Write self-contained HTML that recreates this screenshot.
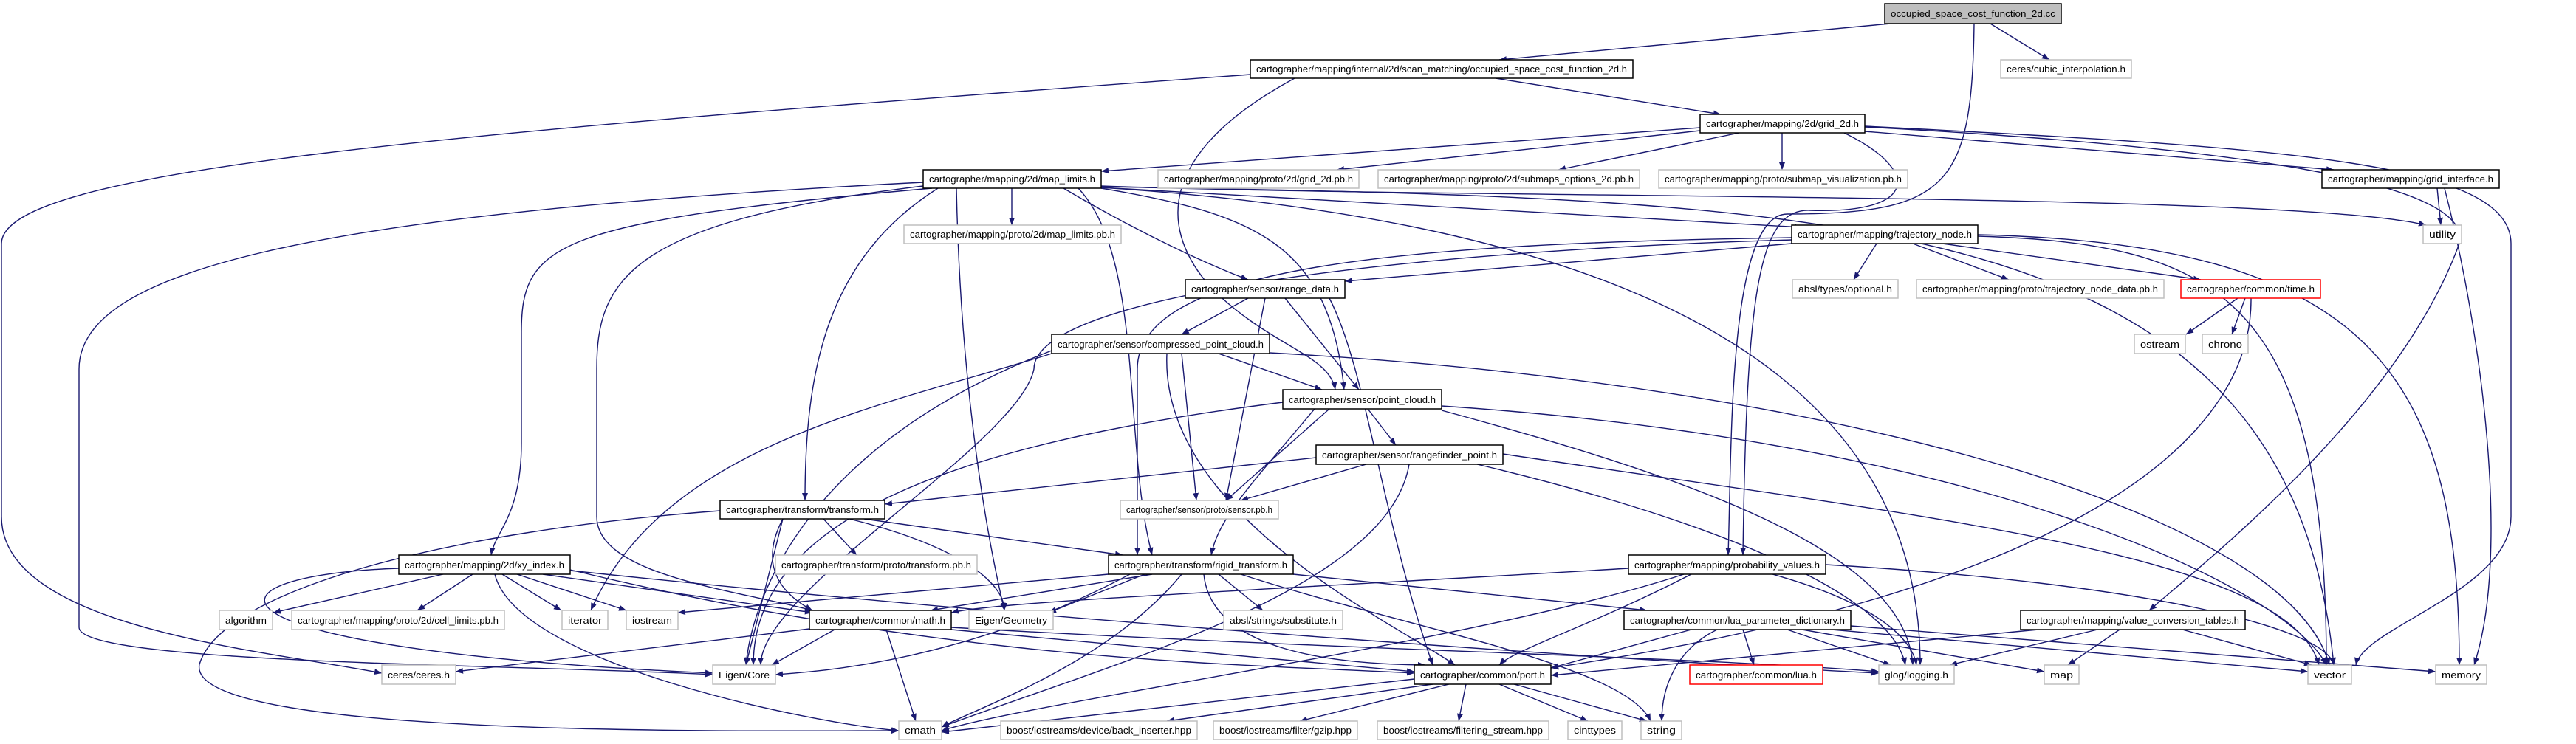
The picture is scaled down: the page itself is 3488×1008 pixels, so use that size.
<!DOCTYPE html>
<html><head><meta charset="utf-8"><style>
html,body{margin:0;padding:0;background:#fff}
svg{display:block}
text{font-family:"Liberation Sans",sans-serif;font-size:13px;fill:#000}
.e{fill:none;stroke:#191970;stroke-width:1.4}
.b{fill:#fff;stroke:#000;stroke-width:1.5}
.g{fill:#fff;stroke:#bfbfbf;stroke-width:1.5}
.r{fill:#fff;stroke:#ff0000;stroke-width:1.5}
</style></head><body>
<svg width="3488" height="1008" viewBox="0 0 3488 1008" xmlns="http://www.w3.org/2000/svg">
<defs><marker id="a" markerUnits="userSpaceOnUse" markerWidth="12" markerHeight="10" refX="10" refY="4" orient="auto"><path d="M0,0 L10,4 L0,8 z" fill="#191970"/></marker></defs>
<g class="e" marker-end="url(#a)">
<path d="M2560 32 L2030 81"/>
<path d="M2695 32 L2775 81"/>
<path d="M2673 32 C2670 250,2640 290,2420 290 C2340 290,2345 600,2340 752"/>
<path d="M2025 106 L2330 155"/>
<path d="M1693 101 C600 180,2 230,2 330 L2 700 C2 850,350 880,517 912"/>
<path d="M1753 106 C1580 200,1560 300,1640 390 C1720 470,1800 480,1808 528"/>
<path d="M2302 173 L1491 232"/>
<path d="M2302 177 L1810 230"/>
<path d="M2355 180 L2110 230"/>
<path d="M2413 180 L2413 230"/>
<path d="M2525 178 L3160 230"/>
<path d="M2525 171 C3100 200,3400 220,3400 330 L3400 700 C3400 800,3200 850,3190 901"/>
<path d="M2525 172 C3050 200,3350 250,3330 330 C3250 550,3000 750,2910 827"/>
<path d="M2497 180 C2600 230,2600 290,2450 285 C2380 283,2365 400,2360 752"/>
<path d="M3300 255 L3305 305"/>
<path d="M3310 255 C3360 450,3400 750,3350 901"/>
<path d="M1370 255 L1370 305"/>
<path d="M1491 252 C2000 270,3100 260,3285 305"/>
<path d="M1491 254 L2440 308"/>
<path d="M1440 255 C1550 320,1640 360,1690 379"/>
<path d="M1491 255 C1700 290,1800 330,1820 528"/>
<path d="M1491 253 C2500 270,3100 280,3160 901"/>
<path d="M1491 254 C2200 300,2600 500,2600 901"/>
<path d="M1270 255 C1120 350,1090 500,1090 678"/>
<path d="M1262 255 C750 300,706 330,706 450 L706 600 C706 700,670 720,665 752"/>
<path d="M1250 252 C850 300,808 380,808 500 L808 700 C808 780,1000 800,1100 827"/>
<path d="M1250 247 C400 290,107 370,107 500 L107 850 C107 900,700 900,965 914"/>
<path d="M1295 255 C1300 500,1330 700,1360 827"/>
<path d="M1460 255 C1550 350,1520 600,1560 752"/>
<path d="M2426 330 L1821 381"/>
<path d="M2541 330 L2510 379"/>
<path d="M2590 330 L2720 379"/>
<path d="M2630 330 L2980 379"/>
<path d="M2426 322 C1900 330,1540 360,1540 500 L1540 752"/>
<path d="M2426 325 C1900 340,1400 400,1400 500 C1380 600,1030 800,1030 901"/>
<path d="M2678 320 C3000 330,3150 400,3150 901"/>
<path d="M2678 318 C3200 330,3330 500,3330 901"/>
<path d="M1690 404 L1600 453"/>
<path d="M1740 404 L1840 528"/>
<path d="M1713 404 L1660 678"/>
<path d="M1800 404 C1850 500,1870 700,1940 901"/>
<path d="M3030 404 L2960 453"/>
<path d="M3040 404 L3022 453"/>
<path d="M3048 404 C3050 600,2800 800,2100 905"/>
<path d="M1650 479 L1790 528"/>
<path d="M1600 479 L1620 678"/>
<path d="M1424 479 C1200 550,900 600,800 827"/>
<path d="M1424 475 C1100 600,1020 800,1010 901"/>
<path d="M1719 478 C2500 520,3100 700,3154 901"/>
<path d="M1580 479 C1570 700,1900 850,1970 901"/>
<path d="M1852 554 L1890 603"/>
<path d="M1800 554 L1660 678"/>
<path d="M1780 554 C1700 650,1650 700,1640 752"/>
<path d="M1737 545 C1300 600,1020 700,1020 901"/>
<path d="M1952 550 C2700 600,3100 800,3150 901"/>
<path d="M1952 556 C2300 650,2580 750,2590 901"/>
<path d="M1782 620 L1198 683"/>
<path d="M1850 629 L1680 678"/>
<path d="M2035 615 C2600 700,3100 750,3140 901"/>
<path d="M2000 629 C2300 700,2560 800,2580 901"/>
<path d="M1908 629 C1880 800,1500 900,1275 985"/>
<path d="M1170 703 L1520 752"/>
<path d="M1115 703 L1160 752"/>
<path d="M1060 703 C1030 760,1050 800,1100 827"/>
<path d="M1060 703 L1010 901"/>
<path d="M1150 703 C1300 740,1360 790,1360 827"/>
<path d="M975 692 C600 720,300 800,270 900 C250 1000,1000 990,1217 990"/>
<path d="M600 778 L370 830"/>
<path d="M640 778 L565 827"/>
<path d="M680 778 L760 827"/>
<path d="M700 778 L848 827"/>
<path d="M735 778 L1100 830"/>
<path d="M540 770 C250 780,250 880,965 912"/>
<path d="M772 772 C1300 900,1700 900,1915 912"/>
<path d="M772 773 C1500 850,2300 900,2544 912"/>
<path d="M670 778 C700 900,1100 980,1217 990"/>
<path d="M1560 778 L1260 827"/>
<path d="M1550 778 L1420 830"/>
<path d="M1501 778 L918 830"/>
<path d="M1650 778 L1710 827"/>
<path d="M1751 778 L2230 827"/>
<path d="M1530 778 C1300 900,1100 910,1050 914"/>
<path d="M1600 778 C1500 900,1320 960,1275 985"/>
<path d="M1630 778 C1640 880,1800 900,1930 901"/>
<path d="M1680 778 C1900 850,2200 900,2235 977"/>
<path d="M2205 770 C1700 800,1350 815,1288 830"/>
<path d="M2290 778 C2150 850,2050 880,2030 901"/>
<path d="M2472 765 C2900 790,3150 850,3160 901"/>
<path d="M2400 778 C2550 820,2590 870,2595 901"/>
<path d="M2280 778 C2000 870,1400 950,1275 990"/>
<path d="M1096 852 L617 910"/>
<path d="M1130 853 L1045 901"/>
<path d="M1200 853 L1240 977"/>
<path d="M1288 853 C1600 880,1800 900,1915 910"/>
<path d="M1288 850 C1800 880,2300 890,2544 910"/>
<path d="M2290 853 L2100 905"/>
<path d="M2360 853 L2375 901"/>
<path d="M2420 853 L2560 901"/>
<path d="M2440 853 L2768 910"/>
<path d="M2480 853 L3125 910"/>
<path d="M2506 848 L3298 910"/>
<path d="M2325 853 C2270 880,2250 930,2250 977"/>
<path d="M2760 853 L2100 915"/>
<path d="M2840 853 L2640 901"/>
<path d="M2870 853 L2800 901"/>
<path d="M2955 853 L3130 901"/>
<path d="M1915 920 L1275 992"/>
<path d="M1940 927 L1580 977"/>
<path d="M1962 927 L1760 977"/>
<path d="M1985 927 L1975 977"/>
<path d="M2030 927 L2150 977"/>
<path d="M2050 927 L2230 977"/>
</g>
<g>
<rect x="2552" y="5" width="239" height="27" fill="#bfbfbf" stroke="#000" stroke-width="1.5"/><text x="2560" y="23" textLength="223" lengthAdjust="spacingAndGlyphs">occupied_space_cost_function_2d.cc</text>
<rect class="b" x="1693" y="81" width="518" height="25"/><text x="1701" y="98" textLength="502" lengthAdjust="spacingAndGlyphs">cartographer/mapping/internal/2d/scan_matching/occupied_space_cost_function_2d.h</text>
<rect class="g" x="2709" y="81" width="177" height="25"/><text x="2717" y="98" textLength="161" lengthAdjust="spacingAndGlyphs">ceres/cubic_interpolation.h</text>
<rect class="b" x="2302" y="155" width="223" height="25"/><text x="2310" y="172" textLength="207" lengthAdjust="spacingAndGlyphs">cartographer/mapping/2d/grid_2d.h</text>
<rect class="b" x="1250" y="230" width="241" height="25"/><text x="1258" y="247" textLength="225" lengthAdjust="spacingAndGlyphs">cartographer/mapping/2d/map_limits.h</text>
<rect class="g" x="1568" y="230" width="272" height="25"/><text x="1576" y="247" textLength="256" lengthAdjust="spacingAndGlyphs">cartographer/mapping/proto/2d/grid_2d.pb.h</text>
<rect class="g" x="1866" y="230" width="354" height="25"/><text x="1874" y="247" textLength="338" lengthAdjust="spacingAndGlyphs">cartographer/mapping/proto/2d/submaps_options_2d.pb.h</text>
<rect class="g" x="2246" y="230" width="337" height="25"/><text x="2254" y="247" textLength="321" lengthAdjust="spacingAndGlyphs">cartographer/mapping/proto/submap_visualization.pb.h</text>
<rect class="b" x="3144" y="230" width="240" height="25"/><text x="3152" y="247" textLength="224" lengthAdjust="spacingAndGlyphs">cartographer/mapping/grid_interface.h</text>
<rect class="g" x="3281" y="305" width="52" height="25"/><text x="3289" y="322" textLength="36" lengthAdjust="spacingAndGlyphs">utility</text>
<rect class="g" x="1224" y="305" width="294" height="25"/><text x="1232" y="322" textLength="278" lengthAdjust="spacingAndGlyphs">cartographer/mapping/proto/2d/map_limits.pb.h</text>
<rect class="b" x="2426" y="305" width="252" height="25"/><text x="2434" y="322" textLength="236" lengthAdjust="spacingAndGlyphs">cartographer/mapping/trajectory_node.h</text>
<rect class="b" x="1605" y="379" width="216" height="25"/><text x="1613" y="396" textLength="200" lengthAdjust="spacingAndGlyphs">cartographer/sensor/range_data.h</text>
<rect class="g" x="2427" y="379" width="143" height="25"/><text x="2435" y="396" textLength="127" lengthAdjust="spacingAndGlyphs">absl/types/optional.h</text>
<rect class="g" x="2595" y="379" width="335" height="25"/><text x="2603" y="396" textLength="319" lengthAdjust="spacingAndGlyphs">cartographer/mapping/proto/trajectory_node_data.pb.h</text>
<rect class="r" x="2953" y="379" width="189" height="25"/><text x="2961" y="396" textLength="173" lengthAdjust="spacingAndGlyphs">cartographer/common/time.h</text>
<rect class="g" x="2890" y="453" width="69" height="26"/><text x="2898" y="471" textLength="53" lengthAdjust="spacingAndGlyphs">ostream</text>
<rect class="g" x="2982" y="453" width="62" height="26"/><text x="2990" y="471" textLength="46" lengthAdjust="spacingAndGlyphs">chrono</text>
<rect class="b" x="1424" y="453" width="295" height="26"/><text x="1432" y="471" textLength="279" lengthAdjust="spacingAndGlyphs">cartographer/sensor/compressed_point_cloud.h</text>
<rect class="b" x="1737" y="528" width="215" height="26"/><text x="1745" y="546" textLength="199" lengthAdjust="spacingAndGlyphs">cartographer/sensor/point_cloud.h</text>
<rect class="b" x="1782" y="603" width="253" height="26"/><text x="1790" y="621" textLength="237" lengthAdjust="spacingAndGlyphs">cartographer/sensor/rangefinder_point.h</text>
<rect class="b" x="975" y="678" width="223" height="25"/><text x="983" y="695" textLength="207" lengthAdjust="spacingAndGlyphs">cartographer/transform/transform.h</text>
<rect class="g" x="1517" y="678" width="214" height="25"/><text x="1525" y="695" textLength="198" lengthAdjust="spacingAndGlyphs">cartographer/sensor/proto/sensor.pb.h</text>
<rect class="b" x="540" y="752" width="232" height="26"/><text x="548" y="770" textLength="216" lengthAdjust="spacingAndGlyphs">cartographer/mapping/2d/xy_index.h</text>
<rect class="g" x="1050" y="752" width="273" height="26"/><text x="1058" y="770" textLength="257" lengthAdjust="spacingAndGlyphs">cartographer/transform/proto/transform.pb.h</text>
<rect class="b" x="1501" y="752" width="250" height="26"/><text x="1509" y="770" textLength="234" lengthAdjust="spacingAndGlyphs">cartographer/transform/rigid_transform.h</text>
<rect class="b" x="2205" y="752" width="267" height="26"/><text x="2213" y="770" textLength="251" lengthAdjust="spacingAndGlyphs">cartographer/mapping/probability_values.h</text>
<rect class="g" x="297" y="827" width="72" height="26"/><text x="305" y="845" textLength="56" lengthAdjust="spacingAndGlyphs">algorithm</text>
<rect class="g" x="395" y="827" width="288" height="26"/><text x="403" y="845" textLength="272" lengthAdjust="spacingAndGlyphs">cartographer/mapping/proto/2d/cell_limits.pb.h</text>
<rect class="g" x="761" y="827" width="62" height="26"/><text x="769" y="845" textLength="46" lengthAdjust="spacingAndGlyphs">iterator</text>
<rect class="g" x="848" y="827" width="70" height="26"/><text x="856" y="845" textLength="54" lengthAdjust="spacingAndGlyphs">iostream</text>
<rect class="b" x="1096" y="827" width="192" height="26"/><text x="1104" y="845" textLength="176" lengthAdjust="spacingAndGlyphs">cartographer/common/math.h</text>
<rect class="g" x="1312" y="827" width="114" height="26"/><text x="1320" y="845" textLength="98" lengthAdjust="spacingAndGlyphs">Eigen/Geometry</text>
<rect class="g" x="1657" y="827" width="161" height="26"/><text x="1665" y="845" textLength="145" lengthAdjust="spacingAndGlyphs">absl/strings/substitute.h</text>
<rect class="b" x="2199" y="827" width="307" height="26"/><text x="2207" y="845" textLength="291" lengthAdjust="spacingAndGlyphs">cartographer/common/lua_parameter_dictionary.h</text>
<rect class="b" x="2736" y="827" width="304" height="26"/><text x="2744" y="845" textLength="288" lengthAdjust="spacingAndGlyphs">cartographer/mapping/value_conversion_tables.h</text>
<rect class="g" x="517" y="901" width="100" height="26"/><text x="525" y="919" textLength="84" lengthAdjust="spacingAndGlyphs">ceres/ceres.h</text>
<rect class="g" x="965" y="901" width="85" height="26"/><text x="973" y="919" textLength="69" lengthAdjust="spacingAndGlyphs">Eigen/Core</text>
<rect class="b" x="1915" y="901" width="185" height="26"/><text x="1923" y="919" textLength="169" lengthAdjust="spacingAndGlyphs">cartographer/common/port.h</text>
<rect class="r" x="2288" y="901" width="180" height="26"/><text x="2296" y="919" textLength="164" lengthAdjust="spacingAndGlyphs">cartographer/common/lua.h</text>
<rect class="g" x="2544" y="901" width="102" height="26"/><text x="2552" y="919" textLength="86" lengthAdjust="spacingAndGlyphs">glog/logging.h</text>
<rect class="g" x="2768" y="901" width="47" height="26"/><text x="2776" y="919" textLength="31" lengthAdjust="spacingAndGlyphs">map</text>
<rect class="g" x="3125" y="901" width="59" height="26"/><text x="3133" y="919" textLength="43" lengthAdjust="spacingAndGlyphs">vector</text>
<rect class="g" x="3298" y="901" width="69" height="26"/><text x="3306" y="919" textLength="53" lengthAdjust="spacingAndGlyphs">memory</text>
<rect class="g" x="1217" y="977" width="58" height="25"/><text x="1225" y="994" textLength="42" lengthAdjust="spacingAndGlyphs">cmath</text>
<rect class="g" x="1355" y="977" width="266" height="25"/><text x="1363" y="994" textLength="250" lengthAdjust="spacingAndGlyphs">boost/iostreams/device/back_inserter.hpp</text>
<rect class="g" x="1643" y="977" width="195" height="25"/><text x="1651" y="994" textLength="179" lengthAdjust="spacingAndGlyphs">boost/iostreams/filter/gzip.hpp</text>
<rect class="g" x="1865" y="977" width="232" height="25"/><text x="1873" y="994" textLength="216" lengthAdjust="spacingAndGlyphs">boost/iostreams/filtering_stream.hpp</text>
<rect class="g" x="2123" y="977" width="73" height="25"/><text x="2131" y="994" textLength="57" lengthAdjust="spacingAndGlyphs">cinttypes</text>
<rect class="g" x="2222" y="977" width="55" height="25"/><text x="2230" y="994" textLength="39" lengthAdjust="spacingAndGlyphs">string</text>
</g>
</svg>
</body></html>
